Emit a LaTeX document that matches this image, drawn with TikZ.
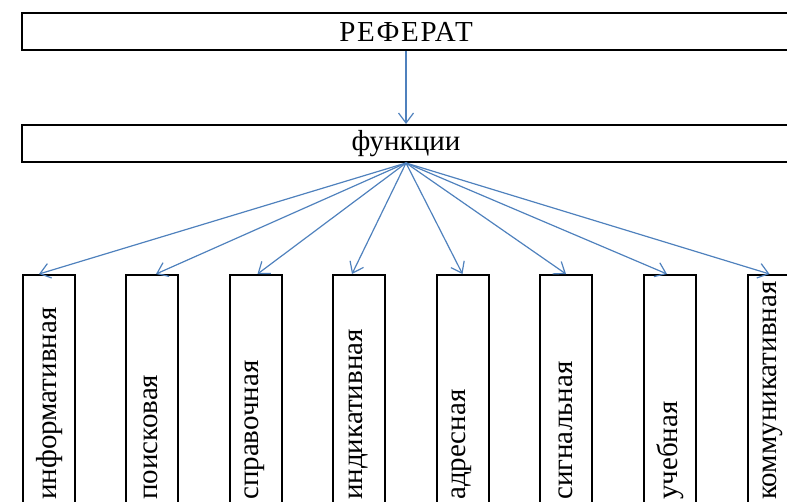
\documentclass[tikz,border=0pt]{standalone}
\usepackage{fontspec}
\setmainfont{Liberation Serif}
\usetikzlibrary{arrows.meta}
\definecolor{arrblue}{RGB}{79,129,189}
\tikzset{
  wide/.style={draw, line width=2pt, minimum width=768pt, minimum height=37pt, inner sep=0pt, font=\fontsize{29}{32}\selectfont},
  tall/.style={draw, line width=2pt, minimum width=52pt, minimum height=260pt, anchor=north, inner sep=0pt},
  vtext/.style={rotate=90, anchor=west, inner sep=0pt, font=\fontsize{29}{32}\selectfont},
  arr/.style={draw=arrblue, line width=1.2pt, -{Straight Barb[length=10pt,width=15pt]}}
}

\begin{document}
\begin{tikzpicture}[x=1pt,y=-1pt]
	\useasboundingbox (0,0) rectangle (787,502);
	\clip (0,0) rectangle (787,502);
	\node[wide] (R) at (406,32) {\addfontfeature{LetterSpace=6}РЕФЕРАТ};
	\node[wide] (F) at (406,143.5) {функции};
	\node[tall] (B1) at (49,274) {};
	\node[tall] (B2) at (152,274) {};
	\node[tall] (B3) at (255.5,274) {};
	\node[tall] (B4) at (359,274) {};
	\node[tall] (B5) at (462.5,274) {};
	\node[tall] (B6) at (566,274) {};
	\node[tall] (B7) at (670,274) {};
	\node[tall] (B8) at (773.5,274) {};
	\node[vtext] (T1) at (50,500) {информативная};
	\node[vtext] (T2) at (151,500) {поисковая};
	\node[vtext] (T3) at (255,500) {справочная};
	\node[vtext] (T4) at (358,500) {индикативная};
	\node[vtext] (T5) at (462,500) {адресная};
	\node[vtext] (T6) at (566,500) {сигнальная};
	\node[vtext] (T7) at (670,500) {учебная};
	\node[vtext] (T8) at (773,500) {коммуникативная};
	\draw[arr] (R) -- (F);
	\draw[arr] (F.south) -- ([xshift=-10pt]B1.north);
	\draw[arr] (F.south) -- ([xshift=4pt]B2.north);
	\draw[arr] (F.south) -- ([xshift=2pt]B3.north);
	\draw[arr] (F.south) -- ([xshift=-7pt]B4.north);
	\draw[arr] (F.south) -- (B5.north);
	\draw[arr] (F.south) -- (B6.north);
	\draw[arr] (F.south) -- ([xshift=-3pt]B7.north);
	\draw[arr] (F.south) -- ([xshift=-4pt]B8.north);
\end{tikzpicture}
\end{document}
